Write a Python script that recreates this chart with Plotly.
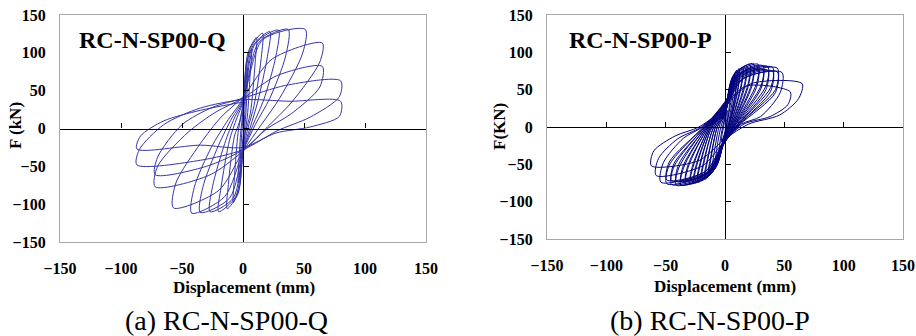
import plotly.graph_objects as go

# ---------------- data (vertices) ----------------
# RC-N-SP00-Q : hysteresis path, displacement (mm) / force (kN)
Q_disp = [
    0, 1, 2, 1.7, 0.8, 0, -1, -2, -1.7, -0.8,
    0, 2, 4, 3.5, 2, 0, -2, -4, -3.5, -2,
    0, 3, 7, 6, 3.5, 0, -3, -8, -7, -4,
    0, 4, 11, 10, 6, 2, 0, -4, -13, -12, -7, -3,
    0, 6, 16, 15, 9, 4, 0, -6, -20, -18, -11, -5,
    0, 8, 22, 20, 12, 6, 0, -8, -27, -25, -15, -7,
    0, 10, 29, 27, 17, 8, 0, -11, -35, -33, -20, -9,
    0, 13, 37, 35, 22, 10, 0, -15, -42, -40, -26, -12,
    0, 16, 51, 49, 30, 15, 0, -20, -57, -55, -35, -18,
    0, 24, 65, 63, 40, 20, 0, -28, -72, -70, -45, -22,
    0, 28, 65, 63, 40, 20, 0, -30, -72, -70, -50, -25,
    0, 35, 80, 79, 55, 28, 0, -35, -87, -85, -65, -35,
    0, 38, 80, 79, 55, 27, 0, -35, -87, -84, -65, -35, 0,
]
Q_force = [
    10, 32, 45, 28, 2, -12, -30, -40, -24, -2,
    18, 62, 80, 55, 12, -18, -55, -72, -48, -8,
    24, 88, 105, 75, 15, -24, -78, -98, -65, -5,
    30, 100, 120, 88, 20, -5, -28, -86, -106, -74, -10, 8,
    32, 106, 126, 94, 30, 0, -28, -90, -110, -78, -15, 14,
    35, 109, 128, 95, 35, 2, -29, -92, -110, -77, -20, 14,
    36, 112, 130, 96, 38, 4, -30, -92, -111, -78, -22, 14,
    38, 114, 131, 96, 40, 5, -30, -90, -112, -78, -25, 12,
    40, 117, 131, 100, 40, 5, -30, -82, -105, -72, -20, 15,
    42, 92, 113, 88, 35, 2, -30, -62, -77, -50, -5, 22,
    40, 70, 82, 55, 20, 0, -28, -50, -61, -38, 5, 28,
    40, 57, 63, 42, 15, -3, -28, -42, -48, -28, 5, 27,
    38, 36, 36, 16, 2, -6, -25, -22, -27, -10, 10, 24, 35,
]

# RC-N-SP00-P : hysteresis path, displacement (mm) / force (kN)
P_disp = [
    0, 1, 2, 1.6, 0.6, 0, -1.5, -3, -2.5, -1.2,
    0, 2, 4, 3.4, 1.5, 0, -2.5, -5, -4.2, -2,
    0, 3, 6, 5, 2, 0, -4, -8, -7, -3.5,
    0, 4, 8, 7, 3, 0, -5, -11, -9.5, -5,
    0, 5, 10, 9, 3.5, 0, -6, -14, -12, -6.5,
    0, 5, 10, 9, 3.5, 0, -6, -14, -12, -6.5,
    0, 6, 12, 11, 4, 0, -7, -17, -15, -8,
    0, 6, 12, 11, 4, 0, -7, -17, -15, -8,
    0, 7, 15, 13.5, 5, 0, -8, -20, -18, -9.5,
    0, 7, 15, 13.5, 5, 0, -8, -20, -18, -9.5,
    0, 8, 18, 16.5, 6, 0, -9, -23, -21, -11,
    0, 8, 18, 16.5, 6, 0, -9, -23, -21, -11,
    0, 9, 21, 19.5, 7, 0, -10, -26, -24, -12,
    0, 9, 21, 19.5, 7, 0, -10, -26, -24, -12,
    0, 10, 24, 22.5, 8, 0, -11, -29, -27, -13,
    0, 10, 24, 22.5, 8, 0, -11, -29, -27, -13,
    0, 11, 28, 26.5, 9, 0, -12, -33, -31, -14,
    0, 11, 28, 26.5, 9, 0, -12, -33, -31, -14,
    0, 12, 32, 30.5, 10, 0, -13, -37, -35, -15,
    0, 12, 32, 30.5, 10, 0, -13, -37, -35, -15,
    0, 13, 36, 34.5, 11, 0, -14, -41, -39, -16,
    0, 13, 36, 34.5, 11, 0, -14, -41, -39, -16,
    0, 14, 40, 38.5, 12, 0, -15, -45, -43, -17,
    0, 14, 40, 38.5, 12, 0, -15, -45, -43, -17,
    0, 15, 44, 42.5, 13, 0, -16, -49, -47, -18,
    0, 15, 44, 42.5, 13, 0, -16, -49, -47, -18,
    0, 16, 48, 46.5, 30, 14, 0, -17, -54, -52, -35, -19,
    0, 18, 55, 53, 38, 16, 0, -19, -58, -56, -40, -20,
    0, 22, 65, 62, 46, 20, 0, -22, -62, -60, -42, -22, 0,
]
P_force = [
    8, 16, 22, 12, 2, -6, -14, -20, -10, 0,
    12, 30, 40, 24, 4, -8, -24, -36, -20, 0,
    15, 45, 58, 36, 6, -10, -34, -50, -30, 0,
    18, 55, 70, 45, 6, -11, -42, -60, -38, 0,
    20, 62, 76, 50, 6, -12, -48, -66, -44, 0,
    16, 56, 70, 46, 5, -10, -44, -61, -40, 0,
    22, 66, 78, 54, 6, -13, -52, -70, -48, 0,
    18, 60, 72, 50, 5, -11, -48, -65, -44, 0,
    24, 68, 80, 56, 6, -14, -55, -72, -50, 0,
    19, 62, 74, 52, 5, -12, -51, -67, -46, 0,
    25, 70, 82, 58, 6, -15, -57, -74, -52, 0,
    20, 64, 76, 53, 5, -12, -53, -69, -48, 0,
    26, 72, 84, 58, 6, -16, -59, -75, -53, 0,
    21, 66, 78, 54, 5, -13, -55, -70, -49, 0,
    28, 74, 85, 58, 6, -17, -61, -76, -54, 0,
    22, 68, 79, 54, 5, -14, -57, -71, -50, 0,
    30, 74, 84, 58, 6, -18, -62, -77, -54, 0,
    23, 68, 78, 53, 5, -15, -58, -72, -50, 0,
    31, 74, 82, 56, 6, -19, -63, -78, -55, 0,
    24, 68, 77, 52, 5, -16, -59, -73, -51, 0,
    32, 73, 81, 55, 5, -20, -64, -78, -55, 0,
    25, 67, 76, 50, 4, -16, -60, -73, -50, 0,
    33, 72, 80, 53, 5, -20, -64, -77, -53, 0,
    26, 66, 75, 48, 4, -16, -60, -72, -49, 0,
    34, 70, 79, 50, 5, -20, -63, -76, -51, 0,
    26, 64, 74, 46, 4, -16, -59, -71, -47, 0,
    32, 66, 73, 46, 14, 4, -19, -60, -74, -48, -15, 0,
    30, 55, 47, 30, 14, 4, -18, -52, -65, -42, -16, 0,
    28, 58, 58, 38, 16, 4, -16, -45, -52, -32, -12, 0, 25,
]

TICKS = [-150, -100, -50, 0, 50, 100, 150]
X_TITLE = "Displacement (mm)"
Y_TITLES = ["F (kN)", "F(KN)"]
PANEL_LABELS = ["RC-N-SP00-Q", "RC-N-SP00-P"]
CAPTIONS = ["(a) RC-N-SP00-Q", "(b) RC-N-SP00-P"]

# ---------------- figure ----------------
W, H = 916, 336
FONT = "Liberation Serif"

def px_x(p):
    return p / W

def px_y(p):
    return 1 - p / H

# panel boxes in pixels (left, right, top, bottom)
boxes = [(60, 426, 15, 242), (547, 903, 15, 239)]

fig = go.Figure()
fig.add_trace(go.Scatter(x=Q_disp, y=Q_force, mode="lines", xaxis="x", yaxis="y",
                         line=dict(color="#3535a8", width=1, shape="spline", smoothing=0.8),
                         hoverinfo="skip", showlegend=False))
fig.add_trace(go.Scatter(x=P_disp, y=P_force, mode="lines", xaxis="x2", yaxis="y2",
                         line=dict(color="#04047e", width=1, shape="spline", smoothing=0.8),
                         hoverinfo="skip", showlegend=False))
# empty traces so the zero-line tick axes are built
fig.add_trace(go.Scatter(x=[None], y=[None], xaxis="x3", yaxis="y3", showlegend=False, hoverinfo="skip"))
fig.add_trace(go.Scatter(x=[None], y=[None], xaxis="x4", yaxis="y4", showlegend=False, hoverinfo="skip"))

tickfont = dict(family=FONT, size=16, color="black", weight="bold")
layout = dict(template="none", width=W, height=H, margin=dict(l=0, r=0, t=0, b=0, pad=0),
              paper_bgcolor="white", plot_bgcolor="white", showlegend=False,
              font=dict(family=FONT, color="black"))

for i, (l, r, t, b) in enumerate(boxes):
    xs = "" if i == 0 else "2"
    xo = "3" if i == 0 else "4"
    xd = [px_x(l), px_x(r)]
    yd = [px_y(b), px_y(t)]
    main_x = dict(domain=xd, range=[-150, 150], anchor="y" + xs, tickvals=TICKS,
                  ticks="outside", ticklen=12, tickcolor="rgba(0,0,0,0)",
                  showline=True, mirror=True, linecolor="#a8a8a8", linewidth=1.2,
                  showgrid=False, zeroline=False, tickfont=tickfont, fixedrange=True,
                  automargin=False)
    main_y = dict(domain=yd, range=[-150, 150], anchor="x" + xs, tickvals=TICKS,
                  ticks="outside", ticklen=10, tickcolor="rgba(0,0,0,0)",
                  showline=True, mirror=True, linecolor="#a8a8a8", linewidth=1.2,
                  showgrid=False, zeroline=False, tickfont=tickfont, fixedrange=True,
                  automargin=False)
    zero_x = dict(overlaying="x" + xs, anchor="free", position=(yd[0] + yd[1]) / 2,
                  range=[-150, 150], tickvals=TICKS, ticks="inside", ticklen=5,
                  tickcolor="black", tickwidth=1, showline=True, linecolor="black",
                  linewidth=1.3, showticklabels=False, showgrid=False, zeroline=False,
                  fixedrange=True, automargin=False)
    zero_y = dict(overlaying="y" + xs, anchor="free", position=(xd[0] + xd[1]) / 2,
                  side="left", range=[-150, 150], tickvals=TICKS, ticks="inside",
                  ticklen=5, tickcolor="black", tickwidth=1, showline=True,
                  linecolor="black", linewidth=1.3, showticklabels=False,
                  showgrid=False, zeroline=False, fixedrange=True, automargin=False)
    layout["xaxis" + xs] = main_x
    layout["yaxis" + xs] = main_y
    layout["xaxis" + xo] = zero_x
    layout["yaxis" + xo] = zero_y

ann = []
# panel labels inside plots
for txt, cx in zip(PANEL_LABELS, [152, 640]):
    ann.append(dict(text=txt, x=px_x(cx), y=px_y(40), xref="paper", yref="paper",
                    xanchor="center", yanchor="middle", showarrow=False,
                    font=dict(family=FONT, size=24, color="black", weight="bold")))
# x titles
for cx, cy in [(244, 287), (725, 286)]:
    ann.append(dict(text=X_TITLE, x=px_x(cx), y=px_y(cy), xref="paper", yref="paper",
                    xanchor="center", yanchor="middle", showarrow=False,
                    font=dict(family=FONT, size=17, color="black", weight="bold")))
# y titles
for txt, cx, cy in [(Y_TITLES[0], 15, 126), (Y_TITLES[1], 499, 126)]:
    ann.append(dict(text=txt, x=px_x(cx), y=px_y(cy), xref="paper", yref="paper",
                    xanchor="center", yanchor="middle", showarrow=False, textangle=-90,
                    font=dict(family=FONT, size=17, color="black", weight="bold")))
# captions
for txt, cx in zip(CAPTIONS, [226, 710]):
    ann.append(dict(text=txt, x=px_x(cx), y=px_y(320), xref="paper", yref="paper",
                    xanchor="center", yanchor="middle", showarrow=False,
                    font=dict(family=FONT, size=28, color="black")))
layout["annotations"] = ann

fig.update_layout(**layout)
fig.write_html("out.html")
